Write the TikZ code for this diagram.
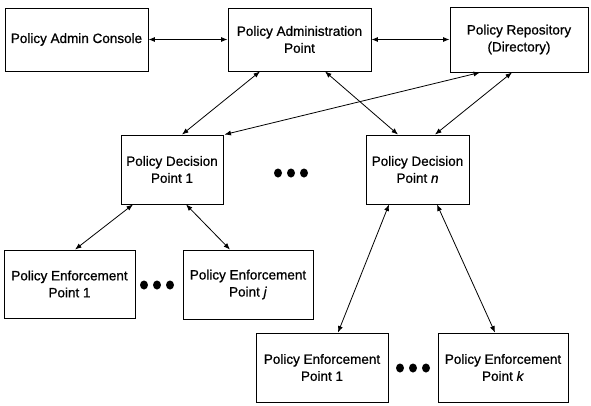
\documentclass[tikz,border=0pt]{standalone}
\usepackage{fontspec}
\setmainfont{Liberation Sans}[BoldFont={Liberation Sans}, BoldFeatures={FakeBold=0.8},
  BoldItalicFont={Liberation Sans Italic}, BoldItalicFeatures={FakeBold=0.8}]
\usetikzlibrary{arrows.meta}
\tikzset{
  box/.style={draw, line width=0.9pt, align=center, inner sep=2pt,
    font=\fontsize{13.5}{17}\selectfont\bfseries},
  link/.style={line width=0.8pt, {Latex[length=6.5pt,width=5pt]}-{Latex[length=6.5pt,width=5pt]}},
  dotmark/.style={ellipse, fill, inner sep=0pt, minimum width=8pt, minimum height=9pt}
}
\usetikzlibrary{shapes.geometric}
\begin{document}
\begin{tikzpicture}[x=1pt,y=-1pt]
\useasboundingbox (0,0) rectangle (591,405);

% top row
\node[box, minimum width=143pt, minimum height=63pt] (pac) at (76.5,39.5) {Policy Admin Console};
\node[box, minimum width=143pt, minimum height=63pt] (pap) at (299.5,39.5) {Policy Administration\\Point};
\node[box, minimum width=138pt, minimum height=65pt] (rep) at (519,39.5) {Policy Repository\\(Directory)};

% decision points
\node[box, minimum width=102pt, minimum height=69pt] (pdp1) at (172,169.5) {Policy Decision\\Point 1};
\node[box, minimum width=103pt, minimum height=69pt] (pdpn) at (417.5,169.5) {Policy Decision\\Point \textit{n}};

% enforcement points
\node[box, minimum width=131pt, minimum height=68pt] (pep1a) at (69.5,284) {Policy Enforcement\\Point 1};
\node[box, minimum width=130pt, minimum height=69pt] (pepj) at (248,284.5) {Policy Enforcement\\Point \textit{j}};
\node[box, minimum width=132pt, minimum height=69pt] (pep1b) at (322,367.5) {Policy Enforcement\\Point 1};
\node[box, minimum width=130pt, minimum height=69pt] (pepk) at (503,367.5) {Policy Enforcement\\Point \textit{k}};

% ellipses
\node[dotmark] (d1) at (278,173) {};
\node[dotmark] (d2) at (291,173) {};
\node[dotmark] (d3) at (304,173) {};
\node[dotmark] (e1) at (144,285) {};
\node[dotmark] (e2) at (157,285) {};
\node[dotmark] (e3) at (170,285) {};
\node[dotmark] (f1) at (400,368) {};
\node[dotmark] (f2) at (413,368) {};
\node[dotmark] (f3) at (426,368) {};

% connectors
\draw[link] (pac.east) -- (pap.west);
\draw[link] (pap.east) -- (rep.west);
\draw[link] ([xshift=-39.5pt]pap.south) -- ([xshift=10pt]pdp1.north);
\draw[link] ([xshift=-39pt]rep.south) -- ([xshift=1pt]pdp1.north east);
\draw[link] ([xshift=25.5pt]pap.south) -- ([xshift=-19.5pt]pdpn.north);
\draw[link] ([xshift=-7pt]rep.south) -- ([xshift=17.5pt]pdpn.north);
\draw[link] ([xshift=-39pt]pdp1.south) -- ([xshift=5.5pt]pep1a.north);
\draw[link] ([xshift=14pt]pdp1.south) -- ([xshift=-18pt]pepj.north);
\draw[link] ([xshift=-28.5pt]pdpn.south) -- ([xshift=16pt]pep1b.north);
\draw[link] ([xshift=19.5pt]pdpn.south) -- ([xshift=-8pt]pepk.north);
\end{tikzpicture}
\end{document}
